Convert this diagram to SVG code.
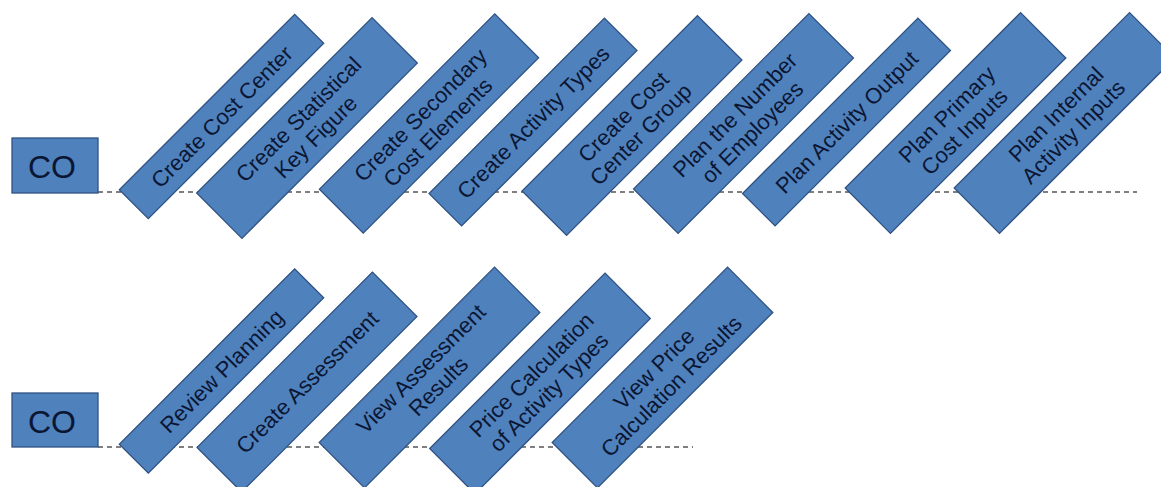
<svg xmlns="http://www.w3.org/2000/svg" width="1161" height="487" viewBox="0 0 1161 487">
<style>
.box{fill:#4F81BD;stroke:#2E5283;stroke-width:1.3}
.t{font-family:"Liberation Sans",Arial,sans-serif;font-size:22px;fill:#0B1633;text-anchor:middle}
.co{font-family:"Liberation Sans",Arial,sans-serif;font-size:32px;fill:#0B1633;text-anchor:middle}
.dash{stroke:#555;stroke-width:1.5;stroke-dasharray:5 4;fill:none}
</style>
<rect width="1161" height="487" fill="#fff"/>
<g id="connectors">
<line class="dash" x1="98" y1="192" x2="1137" y2="192"/>
<line class="dash" x1="98" y1="447" x2="693" y2="447"/>
</g>
<g id="co1"><rect class="box" x="12" y="138" width="86" height="55"/><text class="co" x="52" y="178">CO</text></g>
<g id="co2"><rect class="box" x="12" y="393" width="86" height="54"/><text class="co" x="52" y="433">CO</text></g>

<g id="n1" transform="translate(221.5,116.5) rotate(-45)"><rect class="box" x="-124" y="-20.5" width="248" height="41"/><text class="t" y="8">Create Cost Center</text></g>
<g id="n2" transform="translate(307,128) rotate(-45)"><rect class="box" x="-124" y="-32" width="248" height="64"/><text class="t" y="-4.5">Create Statistical</text><text class="t" y="20">Key Figure</text></g>
<g id="n3" transform="translate(429,123.5) rotate(-45)"><rect class="box" x="-124" y="-31" width="248" height="62"/><text class="t" y="-4.5">Create Secondary</text><text class="t" y="20">Cost Elements</text></g>
<g id="n4" transform="translate(533,122) rotate(-45)"><rect class="box" x="-124" y="-23" width="248" height="46"/><text class="t" y="8">Create Activity Types</text></g>
<g id="n5" transform="translate(632,125.5) rotate(-45)"><rect class="box" x="-124" y="-31.5" width="248" height="63"/><text class="t" y="-4.5">Create Cost</text><text class="t" y="20">Center Group</text></g>
<g id="n6" transform="translate(743.5,123.5) rotate(-45)"><rect class="box" x="-124" y="-31.5" width="248" height="63"/><text class="t" y="-4.5">Plan the Number</text><text class="t" y="20">of Employees</text></g>
<g id="n7" transform="translate(846.5,122) rotate(-45)"><rect class="box" x="-124" y="-23" width="248" height="46"/><text class="t" y="8">Plan Activity Output</text></g>
<g id="n8" transform="translate(955.5,123) rotate(-45)"><rect class="box" x="-124" y="-32" width="248" height="64"/><text class="t" y="-4.5">Plan Primary</text><text class="t" y="20">Cost Inputs</text></g>
<g id="n9" transform="translate(1064.5,123) rotate(-45)"><rect class="box" x="-124" y="-32" width="248" height="64"/><text class="t" y="-4.5">Plan Internal</text><text class="t" y="20">Activity Inputs</text></g>

<g id="m1" transform="translate(221.5,371) rotate(-45)"><rect class="box" x="-124" y="-20.5" width="248" height="41"/><text class="t" y="8">Review Planning</text></g>
<g id="m2" transform="translate(307,382) rotate(-45)"><rect class="box" x="-124" y="-31.5" width="248" height="63"/><text class="t" y="8">Create Assessment</text></g>
<g id="m3" transform="translate(429.5,377.5) rotate(-45)"><rect class="box" x="-124" y="-32" width="248" height="64"/><text class="t" y="-4.5">View Assessment</text><text class="t" y="20">Results</text></g>
<g id="m4" transform="translate(540,383.5) rotate(-45)"><rect class="box" x="-124" y="-32" width="248" height="64"/><text class="t" y="-4.5">Price Calculation</text><text class="t" y="20">of Activity Types</text></g>
<g id="m5" transform="translate(662.5,377.5) rotate(-45)"><rect class="box" x="-124" y="-32" width="248" height="64"/><text class="t" y="-4.5">View Price</text><text class="t" y="20">Calculation Results</text></g>
</svg>
